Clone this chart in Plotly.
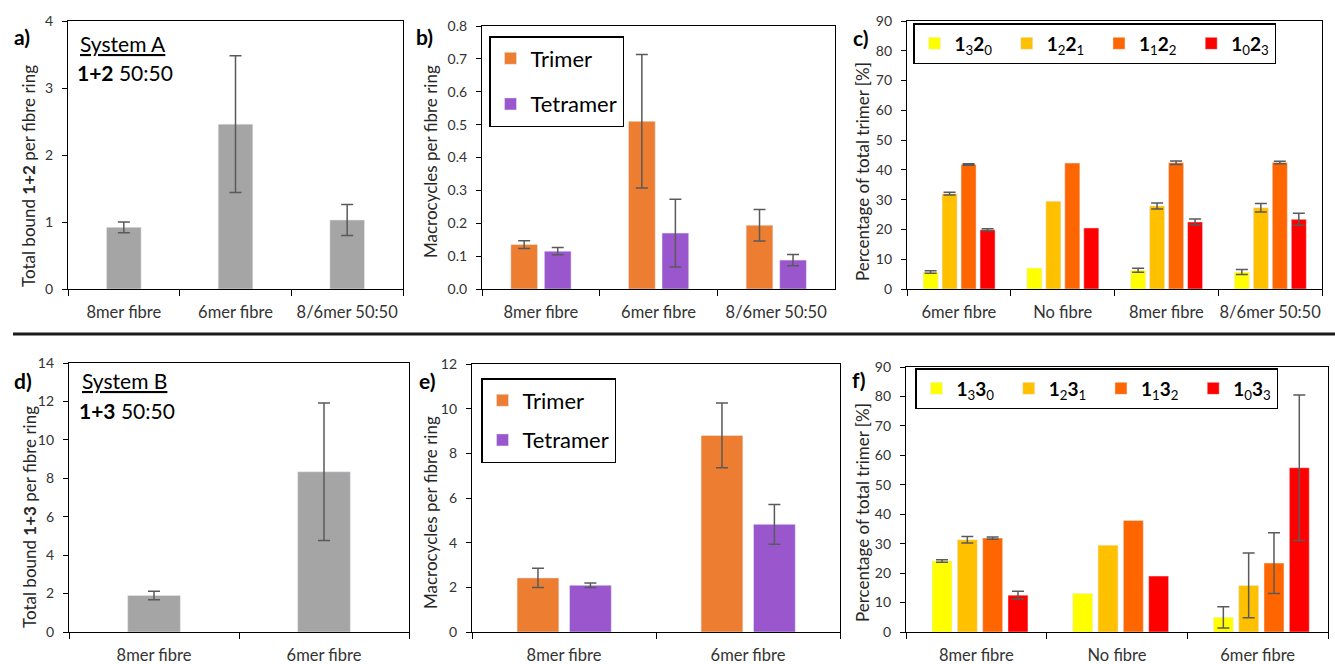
import numpy as np
import plotly.graph_objects as go

# ---------------- data ----------------
cats_a = ["8mer fibre", "6mer fibre", "8/6mer 50:50"]
bound_a = [0.92, 2.46, 1.03]
bound_a_err = [0.08, 1.02, 0.23]

cats_b = ["8mer fibre", "6mer fibre", "8/6mer 50:50"]
trimer_b = [0.135, 0.51, 0.194]
trimer_b_err = [0.012, 0.203, 0.048]
tetramer_b = [0.115, 0.17, 0.088]
tetramer_b_err = [0.011, 0.103, 0.017]

cats_c = ["6mer fibre", "No fibre", "8mer fibre", "8/6mer 50:50"]
names_c = ["<b>1</b><sub>3</sub><b>2</b><sub>0</sub>", "<b>1</b><sub>2</sub><b>2</b><sub>1</sub>",
           "<b>1</b><sub>1</sub><b>2</b><sub>2</sub>", "<b>1</b><sub>0</sub><b>2</b><sub>3</sub>"]
c_1320 = [5.7, 7.05, 6.3, 5.7]
c_1320_err = [0.45, None, 0.7, 0.85]
c_1221 = [32.0, 29.5, 27.9, 27.3]
c_1221_err = [0.45, None, 1.0, 1.4]
c_1122 = [41.8, 42.3, 42.4, 42.5]
c_1122_err = [0.25, None, 0.55, 0.4]
c_1023 = [19.9, 20.5, 22.5, 23.4]
c_1023_err = [0.35, None, 1.0, 2.0]

cats_d = ["8mer fibre", "6mer fibre"]
bound_d = [1.9, 8.34]
bound_d_err = [0.22, 3.58]

cats_e = ["8mer fibre", "6mer fibre"]
trimer_e = [2.42, 8.8]
trimer_e_err = [0.43, 1.45]
tetramer_e = [2.09, 4.82]
tetramer_e_err = [0.1, 0.89]

cats_f = ["8mer fibre", "No fibre", "6mer fibre"]
names_f = ["<b>1</b><sub>3</sub><b>3</b><sub>0</sub>", "<b>1</b><sub>2</sub><b>3</b><sub>1</sub>",
           "<b>1</b><sub>1</sub><b>3</b><sub>2</sub>", "<b>1</b><sub>0</sub><b>3</b><sub>3</sub>"]
f_1330 = [24.1, 13.1, 5.0]
f_1330_err = [0.4, None, 3.6]
f_1231 = [31.3, 29.5, 15.8]
f_1231_err = [1.1, None, 11.0]
f_1132 = [31.9, 37.9, 23.4]
f_1132_err = [0.4, None, 10.3]
f_1033 = [12.5, 19.0, 55.8]
f_1033_err = [1.3, None, 24.7]

# ---------------- styling ----------------
W, H = 1335, 664
FONT = "Lato, 'Open Sans', sans-serif"
GRAY = "#A5A5A5"
ORANGE = "#ED7D31"
PURPLE = "#9A57CD"
SERIES4 = ["#FFFF00", "#FFC000", "#FF6600", "#FF0000"]
ERRC = "#5A5A5A"
PAD = "&nbsp;&nbsp;"  # spacing between horizontal legend entries


def fx(p):
    return p / W


def fy(p):
    return 1 - p / H


def err(arr):
    # missing values become NaN (sent as a typed array) so that no error bar is drawn
    return dict(type="data", array=np.array(arr, dtype=float), visible=True, color=ERRC,
                thickness=1.5, width=6)


fig = go.Figure()

# panel a
fig.add_trace(go.Bar(x=cats_a, y=bound_a, error_y=err(bound_a_err), marker_color=GRAY,
                     width=0.31, offset=-0.155, xaxis="x", yaxis="y", showlegend=False))
# panel b
fig.add_trace(go.Bar(x=cats_b, y=trimer_b, error_y=err(trimer_b_err), marker_color=ORANGE, name="Trimer",
                     width=0.227, offset=-0.255, xaxis="x2", yaxis="y2", legend="legend",
                     legendgroup="tb"))
fig.add_trace(go.Bar(x=cats_b, y=tetramer_b, error_y=err(tetramer_b_err), marker_color=PURPLE, name="Tetramer",
                     width=0.227, offset=0.03, xaxis="x2", yaxis="y2", legend="legend",
                     legendgroup="teb"))
# panel c
for i, (vals, errs) in enumerate([(c_1320, c_1320_err), (c_1221, c_1221_err),
                                  (c_1122, c_1122_err), (c_1023, c_1023_err)]):
    nm = names_c[i] + (PAD if i < 3 else "")
    fig.add_trace(go.Bar(x=cats_c, y=vals, error_y=err(errs), marker_color=SERIES4[i], name=nm,
                         width=0.145, offset=-0.345 + 0.183 * i, xaxis="x3", yaxis="y3", legend="legend2"))
# panel d
fig.add_trace(go.Bar(x=cats_d, y=bound_d, error_y=err(bound_d_err), marker_color=GRAY,
                     width=0.31, offset=-0.155, xaxis="x4", yaxis="y4", showlegend=False))
# panel e
fig.add_trace(go.Bar(x=cats_e, y=trimer_e, error_y=err(trimer_e_err), marker_color=ORANGE, name="Trimer",
                     width=0.227, offset=-0.255, xaxis="x5", yaxis="y5", legend="legend3",
                     legendgroup="te"))
fig.add_trace(go.Bar(x=cats_e, y=tetramer_e, error_y=err(tetramer_e_err), marker_color=PURPLE, name="Tetramer",
                     width=0.227, offset=0.03, xaxis="x5", yaxis="y5", legend="legend3",
                     legendgroup="tee"))
# panel f
for i, (vals, errs) in enumerate([(f_1330, f_1330_err), (f_1231, f_1231_err),
                                  (f_1132, f_1132_err), (f_1033, f_1033_err)]):
    nm = names_f[i] + (PAD if i < 3 else "")
    fig.add_trace(go.Bar(x=cats_f, y=vals, error_y=err(errs), marker_color=SERIES4[i], name=nm,
                         width=0.142, offset=-0.315 + 0.18 * i, xaxis="x6", yaxis="y6", legend="legend4"))

# geometry of plot areas (pixels: left, right, top, bottom)
geo = {
    1: (68, 403, 21, 289),
    2: (482, 835, 26, 289),
    3: (907, 1322, 21, 289),
    4: (69, 409, 363, 632),
    5: (472, 840, 364, 632),
    6: (906, 1328, 367, 632),
}
yranges = {1: (0, 4, 1, None), 2: (0, 0.8, 0.1, ".1f"), 3: (0, 90, 10, None),
           4: (0, 14, 2, None), 5: (0, 12, 2, None), 6: (0, 90, 10, None)}

layout_axes = {}
for k, (l, r, t, b) in geo.items():
    sx = "" if k == 1 else str(k)
    lo, hi, dt, fmt = yranges[k]
    layout_axes["xaxis" + sx] = dict(
        domain=[fx(l), fx(r)], anchor="y" + sx, type="category", showline=True, linecolor="black",
        linewidth=1.2, mirror=True, ticks="outside", ticklen=6, tickcolor="black", tickwidth=1.2,
        tickson="boundaries", tickangle=0, automargin=False, ticklabelstandoff=8,
        tickfont=dict(size=16.5, color="#333333", family=FONT),
        showgrid=False, zeroline=False, fixedrange=True)
    ya = dict(
        domain=[fy(b), fy(t)], anchor="x" + sx, range=[lo, hi], dtick=dt, tick0=0, showline=True,
        linecolor="black", linewidth=1.2, mirror=True, ticks="outside", ticklen=5, tickcolor="black",
        tickwidth=1.2, automargin=False, ticklabelstandoff=6,
        tickfont=dict(size=14, color="#333333", family=FONT),
        showgrid=False, zeroline=False, fixedrange=True)
    if fmt:
        ya["tickformat"] = fmt
    layout_axes["yaxis" + sx] = ya

legend_common = dict(bgcolor="white", bordercolor="black", borderwidth=1.5, xref="paper", yref="paper",
                     xanchor="left", yanchor="top", font=dict(family=FONT, color="black"))

fig.update_layout(
    width=W, height=H, autosize=False, margin=dict(l=0, r=0, t=0, b=0, pad=0, autoexpand=False),
    paper_bgcolor="white", plot_bgcolor="white",
    font=dict(family=FONT, color="#262626"),
    legend=dict(**legend_common, x=fx(489), y=fy(36), tracegroupgap=14, itemwidth=30,
                font_size=22),
    legend3=dict(**legend_common, x=fx(481), y=fy(378), tracegroupgap=8, itemwidth=30,
                 font_size=22),
    legend2=dict(**legend_common, x=fx(913), y=fy(23), orientation="h",
                 itemwidth=30, font_size=19),
    legend4=dict(**legend_common, x=fx(915), y=fy(368), orientation="h",
                 itemwidth=30, font_size=19),
    **layout_axes,
)

# separator line
fig.add_shape(type="line", xref="paper", yref="paper", x0=fx(13), x1=1, y0=fy(334), y1=fy(334),
              line=dict(color="#1a1a1a", width=3))

annots = []
# panel labels
for txt, x, y in [("a)", 22, 36), ("b)", 424, 36), ("c)", 861, 37),
                  ("d)", 23, 380), ("e)", 427, 380), ("f)", 858, 379)]:
    annots.append(dict(text="<b>" + txt + "</b>", x=fx(x), y=fy(y), xref="paper", yref="paper",
                       xanchor="center", yanchor="middle",
                       showarrow=False, font=dict(size=21, color="black", family=FONT)))
# y titles
for txt, x, y in [("Total bound <b>1+2</b> per fibre ring", 29, 176),
                  ("Macrocycles per fibre ring", 430, 162),
                  ("Percentage of total trimer [%]", 862, 172),
                  ("Total bound <b>1+3</b> per fibre ring", 29, 517),
                  ("Macrocycles per fibre ring", 430, 513),
                  ("Percentage of total trimer [%]", 862, 513)]:
    annots.append(dict(text=txt, x=fx(x), y=fy(y), xref="paper", yref="paper", textangle=-90,
                       xanchor="center", yanchor="middle",
                       showarrow=False, font=dict(size=17, color="#262626", family=FONT)))
# system texts
for txt, x, y in [("<u>System A</u>", 78, 43), ("<b>1+2</b> 50:50", 75, 72),
                  ("<u>System B</u>", 80, 380), ("<b>1+3</b> 50:50", 77, 410)]:
    annots.append(dict(text=txt, x=fx(x), y=fy(y), xref="paper", yref="paper", xanchor="left",
                       yanchor="middle",
                       showarrow=False, font=dict(size=21, color="black", family=FONT)))
fig.update_layout(annotations=annots)

fig.write_html("out.html")
